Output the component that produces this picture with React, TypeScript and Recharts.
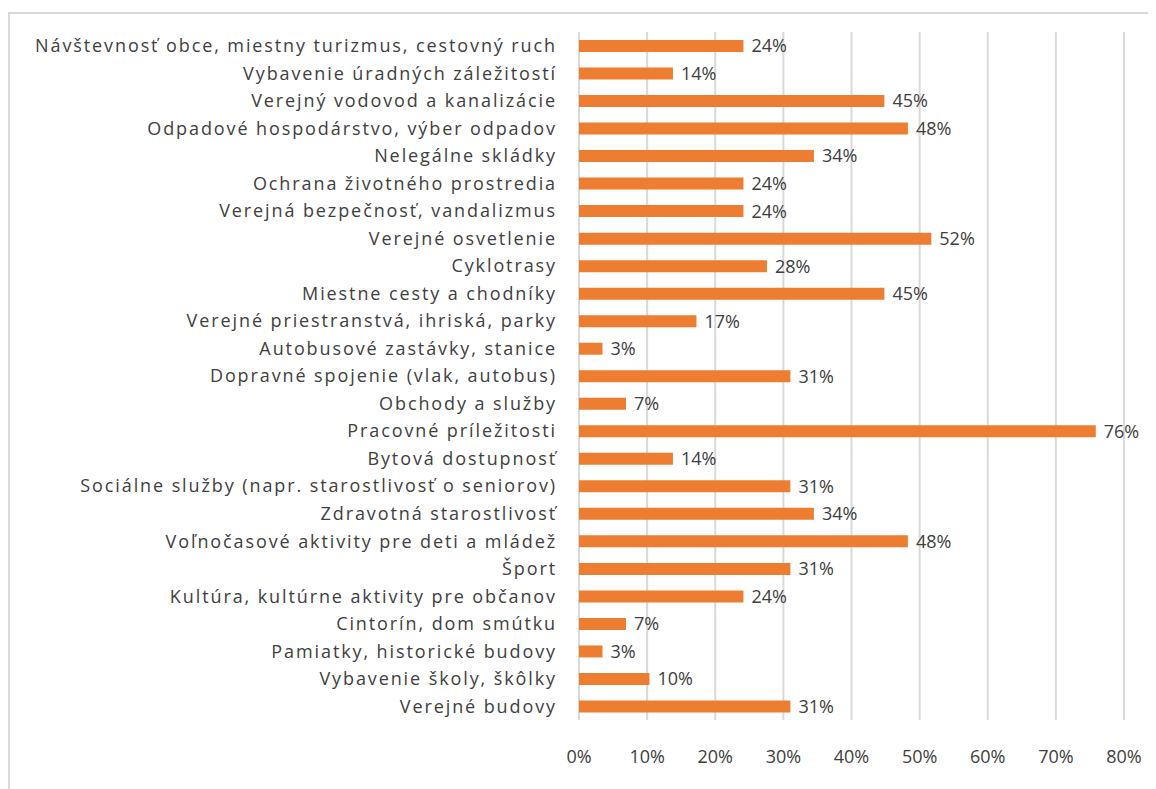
import React from "react";
import { BarChart, Bar, XAxis, YAxis, CartesianGrid, LabelList } from "recharts";

const categories = [
  "Návštevnosť obce, miestny turizmus, cestovný ruch",
  "Vybavenie úradných záležitostí",
  "Verejný vodovod a kanalizácie",
  "Odpadové hospodárstvo, výber odpadov",
  "Nelegálne skládky",
  "Ochrana životného prostredia",
  "Verejná bezpečnosť, vandalizmus",
  "Verejné osvetlenie",
  "Cyklotrasy",
  "Miestne cesty a chodníky",
  "Verejné priestranstvá, ihriská, parky",
  "Autobusové zastávky, stanice",
  "Dopravné spojenie (vlak, autobus)",
  "Obchody a služby",
  "Pracovné príležitosti",
  "Bytová dostupnosť",
  "Sociálne služby (napr. starostlivosť o seniorov)",
  "Zdravotná starostlivosť",
  "Voľnočasové aktivity pre deti a mládež",
  "Šport",
  "Kultúra, kultúrne aktivity pre občanov",
  "Cintorín, dom smútku",
  "Pamiatky, historické budovy",
  "Vybavenie školy, škôlky",
  "Verejné budovy",
];

const shares = [
  0.2414, 0.1379, 0.4483, 0.4828, 0.3448, 0.2414, 0.2414, 0.5172, 0.2759, 0.4483, 0.1724,
  0.0345, 0.3103, 0.069, 0.7586, 0.1379, 0.3103, 0.3448, 0.4828, 0.3103, 0.2414, 0.069,
  0.0345, 0.1034, 0.3103,
];

const xTicks = [0, 0.1, 0.2, 0.3, 0.4, 0.5, 0.6, 0.7, 0.8];

const data = categories.map((name, i) => ({ name, value: shares[i] }));

const pct = (v: number) => `${Math.round(v * 100)}%`;
const font = "'Open Sans', sans-serif";
const ink = "#404040";

export default function App() {
  return (
    <div
      style={{
        marginTop: 4,
        width: 1150,
        height: 790,
        border: "2px solid #d9d9d9",
        boxSizing: "border-box",
        fontFamily: font,
      }}
    >
      <BarChart
        width={1140}
        height={775}
        data={data}
        layout="vertical"
        margin={{ top: 18, right: 26, left: 0, bottom: 19 }}
      >
        <CartesianGrid horizontal={false} stroke="#d9d9d9" strokeWidth={2} />
        <XAxis
          type="number"
          domain={[0, 0.8]}
          ticks={xTicks}
          tickFormatter={pct}
          axisLine={false}
          tickLine={false}
          tickSize={0}
          tickMargin={30}
          height={50}
          interval={0}
          tick={{ fill: ink, fontSize: 18, fontFamily: font }}
        />
        <YAxis
          type="category"
          dataKey="name"
          width={569}
          axisLine={false}
          tickLine={false}
          tickSize={0}
          tickMargin={22}
          interval={0}
          tick={{ fill: ink, fontSize: 18, fontFamily: font, letterSpacing: 1.9 }}
        />
        <Bar dataKey="value" fill="#ED7D31" barSize={12} isAnimationActive={false}>
          <LabelList
            dataKey="value"
            position="right"
            offset={8}
            formatter={(v: any) => pct(Number(v))}
            style={{ fill: ink, fontSize: 18, fontFamily: font }}
          />
        </Bar>
      </BarChart>
    </div>
  );
}
